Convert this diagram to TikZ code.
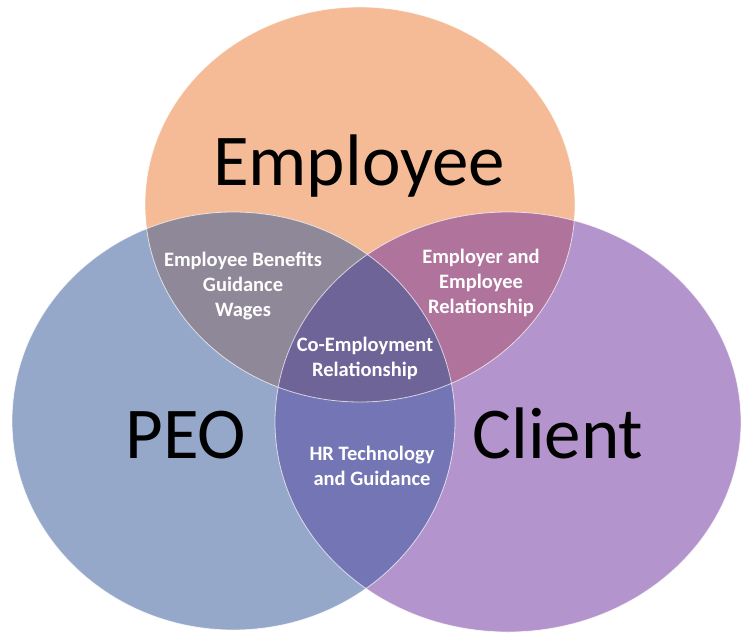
\documentclass[tikz,border=0pt]{standalone}
\usepackage{fontspec}
\setmainfont{Carlito}
\definecolor{empC}{HTML}{F4BB96}
\definecolor{peoC}{HTML}{95A8CA}
\definecolor{cliC}{HTML}{B494CC}
\definecolor{epC}{HTML}{8F8898}
\definecolor{ecC}{HTML}{B0739C}
\definecolor{pcC}{HTML}{7475B4}
\definecolor{allC}{HTML}{6F6498}
\tikzset{
  bigtxt/.style={inner sep=0pt, anchor=base, text=black, font=\fontsize{73}{80}\selectfont},
  smalltxt/.style={inner sep=0pt, align=center, text=white, font=\fontsize{20.5}{25}\selectfont\bfseries},
  rim/.style={draw=white, draw opacity=0.7, line width=0.8pt}
}
\newcommand{\empE}{(360,204.5) ellipse [x radius=215pt, y radius=197.5pt]}
\newcommand{\peoE}{(233.5,421) ellipse [x radius=221.5pt, y radius=209pt]}
\newcommand{\cliE}{(508,422) ellipse [x radius=233pt, y radius=210pt]}
\begin{document}
\begin{tikzpicture}[x=1pt,y=-1pt]
\useasboundingbox (0,0) rectangle (751,642);
\fill[white] (0,0) rectangle (751,642);
% base circles
\fill[empC] \empE;
\fill[peoC] \peoE;
\fill[cliC] \cliE;
% pairwise overlaps
\begin{scope}
  \clip \empE;
  \fill[epC] \peoE;
\end{scope}
\begin{scope}
  \clip \empE;
  \fill[ecC] \cliE;
\end{scope}
\begin{scope}
  \clip \peoE;
  \fill[pcC] \cliE;
\end{scope}
\begin{scope}
  \clip \empE;
  \clip \peoE;
  \fill[allC] \cliE;
\end{scope}
% rims
\draw[rim] \empE;
\draw[rim] \peoE;
\draw[rim] \cliE;
% labels
\node[bigtxt] (employee) at (359,185) {Employee};
\node[bigtxt] (peo) at (186,458) {PEO};
\node[bigtxt] (client) at (558,458) {Client};
\node[smalltxt] (ep) at (243,286) {Employee Benefits\\Guidance\\Wages};
\node[smalltxt] (ec) at (481,283) {Employer and\\Employee\\Relationship};
\node[smalltxt] (all) at (365,358.5) {Co-Employment\\Relationship};
\node[smalltxt] (pc) at (372,465.5) {HR Technology\\and Guidance};
\end{tikzpicture}
\end{document}
